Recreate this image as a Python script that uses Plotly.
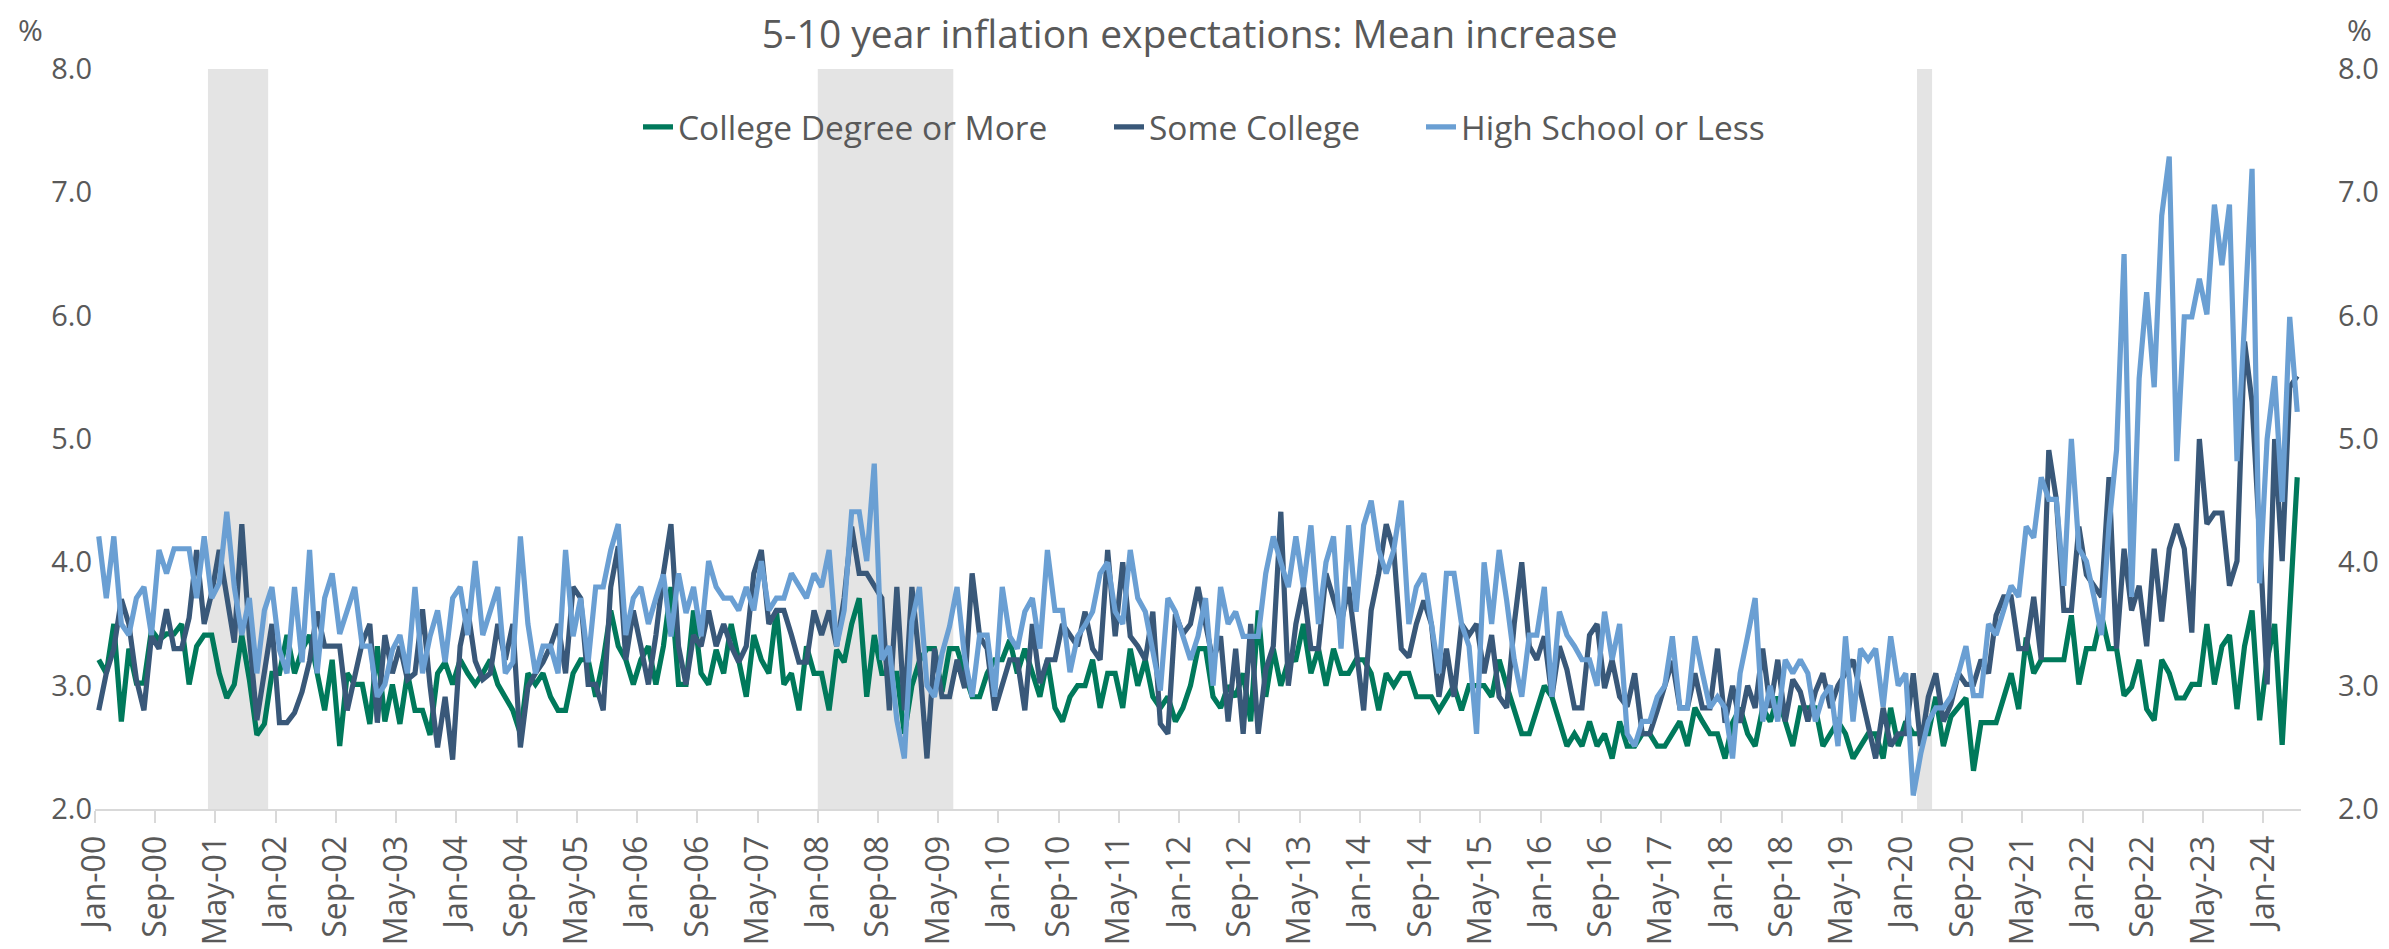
import plotly.graph_objects as go

# ---------------- data ----------------
MONTH_NAMES = ["Jan", "Feb", "Mar", "Apr", "May", "Jun", "Jul", "Aug", "Sep", "Oct", "Nov", "Dec"]
months = [f"{MONTH_NAMES[m]}-{y:02d}" for y in range(0, 25) for m in range(12)][:293]  # Jan-00 .. May-24

college_degree = [
    3.21, 3.10, 3.50, 2.71, 3.30, 3.02, 3.02, 3.45, 3.37, 3.42,
    3.42, 3.50, 3.01, 3.32, 3.41, 3.41, 3.10, 2.90, 3.01, 3.41,
    3.05, 2.60, 2.69, 3.10, 3.10, 3.41, 3.10, 3.29, 3.41, 3.10,
    2.80, 3.21, 2.51, 3.10, 3.01, 3.01, 2.69, 3.32, 2.71, 3.01,
    2.69, 3.10, 2.80, 2.80, 2.60, 3.10, 3.19, 3.01, 3.21, 3.10,
    3.01, 3.10, 3.21, 3.01, 2.90, 2.80, 2.61, 3.10, 3.01, 3.10,
    2.91, 2.80, 2.80, 3.10, 3.21, 3.21, 2.91, 3.21, 3.61, 3.32,
    3.21, 3.01, 3.21, 3.32, 3.01, 3.32, 3.80, 3.01, 3.01, 3.61,
    3.10, 3.01, 3.29, 3.10, 3.50, 3.21, 2.91, 3.41, 3.21, 3.10,
    3.61, 3.01, 3.10, 2.80, 3.32, 3.10, 3.10, 2.80, 3.29, 3.19,
    3.50, 3.71, 2.91, 3.41, 3.10, 3.10, 3.10, 2.61, 3.00, 3.20,
    3.30, 3.30, 2.95, 3.30, 3.30, 3.10, 2.91, 2.91, 3.10, 3.21,
    3.21, 3.37, 3.10, 3.30, 3.10, 2.91, 3.21, 2.82, 2.71, 2.91,
    3.00, 3.00, 3.21, 2.82, 3.10, 3.10, 2.82, 3.30, 3.00, 3.21,
    2.91, 2.82, 2.91, 2.71, 2.82, 3.00, 3.30, 3.30, 2.91, 2.82,
    3.00, 2.91, 3.10, 2.71, 3.61, 2.91, 3.30, 3.00, 3.20, 3.21,
    3.50, 3.10, 3.30, 3.00, 3.30, 3.10, 3.10, 3.21, 3.21, 3.10,
    2.80, 3.10, 3.00, 3.10, 3.10, 2.91, 2.91, 2.91, 2.80, 2.91,
    3.00, 2.80, 3.00, 3.00, 3.00, 2.91, 3.21, 3.00, 2.80, 2.61,
    2.61, 2.80, 3.00, 2.91, 2.71, 2.51, 2.61, 2.51, 2.71, 2.51,
    2.61, 2.41, 2.71, 2.51, 2.51, 2.61, 2.61, 2.51, 2.51, 2.61,
    2.71, 2.51, 2.82, 2.71, 2.61, 2.61, 2.41, 2.70, 2.82, 2.61,
    2.51, 2.82, 2.71, 2.91, 2.71, 2.51, 2.82, 2.82, 2.82, 2.51,
    2.61, 2.71, 2.61, 2.41, 2.51, 2.61, 2.61, 2.41, 2.82, 2.51,
    2.71, 2.61, 2.61, 2.61, 2.91, 2.51, 2.75, 2.82, 2.90, 2.31,
    2.70, 2.70, 2.70, 2.90, 3.10, 2.81, 3.39, 3.10, 3.21, 3.21,
    3.21, 3.21, 3.57, 3.01, 3.30, 3.30, 3.57, 3.30, 3.30, 2.92,
    2.99, 3.21, 2.81, 2.72, 3.21, 3.10, 2.90, 2.90, 3.01, 3.01,
    3.50, 3.01, 3.32, 3.41, 2.81, 3.32, 3.61, 2.72, 3.21, 3.50,
    2.52, 3.60, 4.69,
]

some_college = [
    2.80, 3.10, 3.30, 3.70, 3.50, 3.05, 2.80, 3.40, 3.30, 3.62,
    3.30, 3.30, 3.55, 4.10, 3.50, 3.75, 4.10, 3.70, 3.35, 4.31,
    3.40, 2.72, 3.10, 3.50, 2.70, 2.70, 2.78, 2.95, 3.20, 3.60,
    3.32, 3.32, 3.32, 2.80, 3.10, 3.35, 3.50, 2.70, 3.41, 3.10,
    3.32, 3.05, 3.10, 3.62, 3.00, 2.50, 2.91, 2.40, 3.32, 3.62,
    3.20, 3.05, 3.10, 3.50, 3.21, 3.50, 2.50, 2.99, 3.10, 3.19,
    3.32, 3.50, 3.10, 3.80, 3.71, 3.01, 3.01, 2.80, 3.80, 4.13,
    3.21, 3.61, 3.32, 3.01, 3.41, 3.91, 4.31, 3.32, 3.01, 3.41,
    3.32, 3.61, 3.32, 3.50, 3.32, 3.19, 3.32, 3.91, 4.10, 3.50,
    3.61, 3.61, 3.41, 3.19, 3.19, 3.61, 3.41, 3.61, 3.32, 3.71,
    4.29, 3.91, 3.91, 3.80, 3.71, 2.80, 3.80, 2.80, 3.80, 3.20,
    2.41, 3.30, 2.91, 2.91, 3.21, 2.98, 3.91, 3.40, 3.30, 2.80,
    3.00, 3.21, 3.21, 2.80, 3.50, 3.02, 3.21, 3.21, 3.50, 3.40,
    3.32, 3.60, 3.30, 3.21, 4.10, 3.40, 4.00, 3.40, 3.32, 3.21,
    3.60, 2.69, 2.61, 3.58, 3.42, 3.50, 3.80, 3.50, 3.20, 3.40,
    2.71, 3.30, 2.61, 3.50, 2.61, 3.13, 3.32, 4.41, 3.00, 3.50,
    3.80, 3.30, 3.30, 3.91, 3.69, 3.50, 3.80, 3.30, 2.80, 3.61,
    3.91, 4.31, 4.10, 3.30, 3.23, 3.50, 3.69, 3.50, 2.91, 3.30,
    2.91, 3.50, 3.41, 3.50, 3.10, 3.41, 2.91, 2.82, 3.50, 4.00,
    3.32, 3.21, 3.40, 2.91, 3.32, 3.13, 2.82, 2.82, 3.41, 3.50,
    2.98, 3.21, 2.91, 2.83, 3.10, 2.61, 2.61, 2.80, 3.00, 3.20,
    2.82, 2.82, 3.10, 2.82, 2.82, 3.30, 2.70, 3.00, 2.70, 3.00,
    2.82, 3.30, 2.82, 3.21, 2.71, 3.05, 2.95, 2.71, 2.95, 3.10,
    2.82, 3.00, 3.10, 3.21, 2.95, 2.70, 2.41, 2.82, 2.51, 2.61,
    2.61, 3.10, 2.51, 2.91, 3.10, 2.71, 2.85, 3.10, 3.01, 3.01,
    3.21, 3.10, 3.57, 3.72, 3.72, 3.30, 3.30, 3.72, 3.21, 4.91,
    4.51, 3.61, 3.61, 4.29, 3.90, 3.81, 3.72, 4.69, 3.30, 4.11,
    3.61, 3.81, 3.32, 4.11, 3.52, 4.11, 4.31, 4.11, 3.43, 5.00,
    4.31, 4.40, 4.40, 3.81, 4.01, 5.79, 5.30, 4.20, 3.01, 5.00,
    4.01, 5.42, 5.51,
]

high_school = [
    4.21, 3.71, 4.21, 3.50, 3.41, 3.71, 3.80, 3.41, 4.10, 3.91,
    4.11, 4.11, 4.11, 3.71, 4.21, 3.71, 3.83, 4.41, 3.80, 3.41,
    3.71, 3.10, 3.61, 3.80, 3.29, 3.10, 3.80, 3.19, 4.10, 3.10,
    3.71, 3.91, 3.42, 3.61, 3.80, 3.32, 3.32, 2.91, 3.01, 3.29,
    3.41, 3.10, 3.80, 3.10, 3.40, 3.61, 3.19, 3.71, 3.80, 3.41,
    4.01, 3.41, 3.61, 3.80, 3.10, 3.19, 4.21, 3.50, 3.10, 3.32,
    3.32, 3.10, 4.10, 3.40, 3.71, 3.19, 3.80, 3.80, 4.10, 4.31,
    3.41, 3.71, 3.80, 3.50, 3.71, 3.90, 3.40, 3.91, 3.59, 3.80,
    3.40, 4.01, 3.80, 3.71, 3.71, 3.61, 3.80, 3.61, 4.01, 3.61,
    3.71, 3.71, 3.91, 3.80, 3.71, 3.91, 3.80, 4.10, 3.32, 3.61,
    4.41, 4.41, 4.01, 4.80, 3.21, 3.32, 2.72, 2.41, 3.52, 3.80,
    3.00, 2.91, 3.26, 3.48, 3.80, 3.23, 2.91, 3.41, 3.41, 2.91,
    3.80, 3.40, 3.30, 3.60, 3.71, 3.30, 4.10, 3.61, 3.61, 3.11,
    3.40, 3.49, 3.60, 3.91, 4.00, 3.60, 3.50, 4.10, 3.71, 3.60,
    3.26, 2.96, 3.71, 3.60, 3.40, 3.21, 3.40, 3.71, 3.00, 3.80,
    3.50, 3.60, 3.40, 3.40, 3.40, 3.91, 4.21, 4.00, 3.80, 4.21,
    3.80, 4.30, 3.50, 4.00, 4.21, 3.30, 4.30, 3.60, 4.30, 4.50,
    4.10, 3.91, 4.10, 4.50, 3.50, 3.80, 3.91, 3.50, 3.10, 3.91,
    3.91, 3.50, 3.32, 2.61, 4.00, 3.50, 4.10, 3.69, 3.21, 2.91,
    3.41, 3.41, 3.80, 2.91, 3.60, 3.41, 3.32, 3.21, 3.21, 3.00,
    3.60, 3.21, 3.50, 2.61, 2.51, 2.71, 2.71, 2.91, 3.00, 3.40,
    2.82, 2.82, 3.40, 3.10, 2.82, 2.91, 2.82, 2.41, 3.10, 3.40,
    3.71, 2.71, 3.00, 2.71, 3.21, 3.10, 3.21, 3.10, 2.71, 2.91,
    3.00, 2.51, 3.40, 2.71, 3.30, 3.21, 3.30, 2.83, 3.40, 3.00,
    3.10, 2.11, 2.45, 2.71, 2.82, 2.82, 2.91, 3.10, 3.32, 2.92,
    2.92, 3.50, 3.41, 3.61, 3.81, 3.72, 4.29, 4.20, 4.69, 4.51,
    4.51, 3.81, 5.00, 4.11, 4.01, 3.72, 3.41, 4.30, 4.91, 6.50,
    3.72, 5.49, 6.19, 5.42, 6.81, 7.29, 4.82, 5.99, 5.99, 6.30,
    6.01, 6.90, 6.41, 6.90, 4.82, 5.95, 7.19, 3.83, 5.00, 5.51,
    4.49, 5.99, 5.22,
]

series_names = ["College Degree or More", "Some College", "High School or Less"]
tick_labels = months[::8]                      # Jan-00, Sep-00, May-01, ... Jan-24
y_ticks = [2.0, 3.0, 4.0, 5.0, 6.0, 7.0, 8.0]
recessions = [("Apr-01", "Nov-01"), ("Jan-08", "Jun-09"), ("Mar-20", "Apr-20")]

# ---------------- styling ----------------
FONT = "Open Sans"
TXT = "#595959"
COLORS = ["#00795B", "#395879", "#6A9FD3"]
L, R, T, B = 95, 88, 69, 140
PW = 2389 - L - R
PH = 949 - T - B
# left edge (px) of each legend entry
legend_left_px = [638, 1109, 1421]
legend_names = ["legend", "legend2", "legend3"]
idx = list(range(len(months)))

fig = go.Figure()
for name, vals, col, yax, lg in zip(series_names, [college_degree, some_college, high_school],
                                    COLORS, ["y", "y", "y2"], legend_names):
    fig.add_trace(go.Scatter(
        x=idx, y=vals, name=name, mode="lines", yaxis=yax, legend=lg,
        line=dict(color=col, width=5.2),
        customdata=months, hovertemplate="%{customdata}: %{y:.1f}<extra>" + name + "</extra>",
    ))

for a, b in recessions:
    fig.add_shape(type="rect", xref="x", yref="paper",
                  x0=months.index(a) - 0.5, x1=months.index(b) + 0.5, y0=0, y1=1,
                  fillcolor="#E4E4E4", line_width=0, layer="below")

yax_common = dict(range=[2, 8], tickvals=y_ticks, tickformat=".1f", showgrid=False,
                  zeroline=False, showline=False, ticks="", automargin=False,
                  tickfont=dict(family=FONT, size=29, color=TXT))

legend_style = dict(orientation="h", xanchor="left", y=(809 - 127) / PH, yanchor="middle",
                    bgcolor="rgba(0,0,0,0)", borderwidth=0,
                    font=dict(family=FONT, size=33.5, color=TXT))
legends = {}
for lg, px in zip(legend_names, legend_left_px):
    legends[lg] = dict(**legend_style, x=(px - L) / PW)

fig.update_layout(
    width=2389, height=949,
    margin=dict(l=L, r=R, t=T, b=B, autoexpand=False),
    paper_bgcolor="white", plot_bgcolor="white",
    font=dict(family=FONT, color=TXT),
    title=dict(text="5-10 year inflation expectations: Mean increase",
               x=0.498, xref="container", xanchor="center",
               y=1 - 34 / 949, yref="container", yanchor="middle",
               font=dict(family=FONT, size=39, color=TXT)),
    xaxis=dict(range=[-0.5, len(months) - 0.5],
               tickmode="array",
               tickvals=[months.index(t) - 0.5 for t in tick_labels],
               ticktext=tick_labels, tickangle=-90,
               ticks="outside", ticklen=12, tickwidth=2, tickcolor="#D9D9D9",
               showline=True, linecolor="#D9D9D9", linewidth=2,
               showgrid=False, zeroline=False, automargin=False,
               tickfont=dict(family=FONT, size=32, color=TXT)),
    yaxis=dict(**yax_common, side="left", ticklabelstandoff=2),
    yaxis2=dict(**yax_common, side="right", overlaying="y", ticklabelstandoff=36),
    showlegend=True,
    annotations=[
        dict(text="%", xref="paper", yref="paper", x=-65 / PW, y=1 + 40 / PH,
             xanchor="center", yanchor="middle", showarrow=False,
             font=dict(family=FONT, size=30, color=TXT)),
        dict(text="%", xref="paper", yref="paper", x=1 + 58 / PW, y=1 + 40 / PH,
             xanchor="center", yanchor="middle", showarrow=False,
             font=dict(family=FONT, size=30, color=TXT)),
    ],
    **legends,
)

fig.write_html("out.html", config={"displayModeBar": False},
               post_script="document.body.style.margin='0';document.body.style.overflow='hidden';")
